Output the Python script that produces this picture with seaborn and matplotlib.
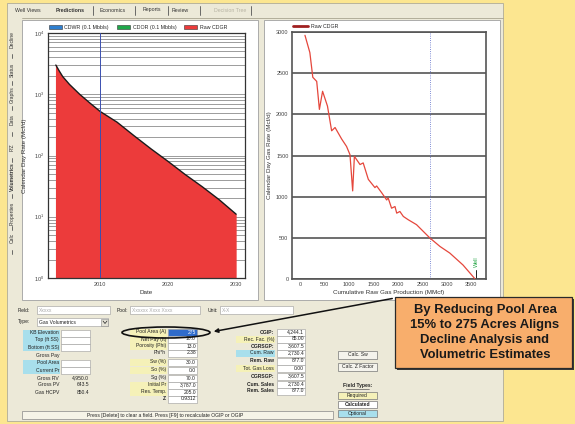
import numpy as np
import pandas as pd
import matplotlib
matplotlib.use("Agg")
import matplotlib.pyplot as plt
import seaborn as sns
from matplotlib.patches import Rectangle, Ellipse
from matplotlib.ticker import FixedLocator, MultipleLocator, LogLocator, LogFormatterMathtext, NullFormatter

# --- DATA ---
# left chart: forecast decline (calendar day rate, log scale)
years = [2003.5, 2004.0, 2004.5, 2005.5, 2007.0, 2008.5, 2010.0, 2012.5,
         2015.0, 2017.5, 2020.0, 2022.5, 2025.0, 2027.5, 2030.0]
cdgr = [3000, 2400, 1950, 1450, 1000, 720, 525, 350,
        210, 128, 80, 49, 31, 19, 11]
left_legend = ["CDWR (0.1 Mbbls)", "CDOR (0.1 Mbbls)", "Raw CDGR"]

# right chart: rate vs cumulative production
cum_gas = [100, 200, 260, 340, 395, 460, 560, 645, 715, 850, 950, 1020, 1075,
           1110, 1225, 1290, 1395, 1530, 1565, 1665, 1770, 1800, 1870, 1940,
           1975, 2040, 2110, 2210, 2380, 2650, 2860, 3060, 3330, 3570]
raw_cdgr = [2960, 2750, 2450, 2400, 2060, 2280, 2100, 1800, 1840, 1700, 1610,
            1510, 1070, 1490, 1390, 1410, 1210, 1110, 1130, 1050, 960, 985,
            860, 880, 800, 820, 760, 720, 660, 500, 395, 315, 170, 5]
well_cum = 3600

# tabs
top_tabs = ["Well Views", "Predictions", "Economics", "Reports", "Review", "Decision Tree"]
side_tabs = ["Decline", "Status", "Graphs", "Data", "P/Z", "Volumetrics", "Properties", "Calc"]

# volumetrics form
left_labels = ["KB Elevation", "Top (ft SS)", "Bottom (ft SS)", "Gross Pay", "Pool Area",
               "Current Pr", "Gross RV", "Gross PV", "Gas HCPV"]
left_values = ["", "", "", "", "", "", "4,950.0", "643.5", "850.4"]
mid_labels = ["Pool Area (A)", "Net Pay (ft)", "Porosity (Phi)", "Phi*h", "Sw (%)",
              "So (%)", "Sg (%)", "Initial Pr", "Res. Temp.", "Z"]
mid_values = ["275", "10.0", "13.0", "2.38", "30.0", "0.0", "70.0", "3,787.0", "205.0", "0.9312"]
right_labels = ["OGIP:", "Rec. Fac. (%)", "OGRSGP:", "Cum. Raw", "Rem. Raw",
                "Tot. Gas Loss", "OGRSGP:", "Cum. Sales", "Rem. Sales"]
right_values = ["4,244.1", "85.00", "3,607.5", "2,730.4", "877.0", "0.00", "3,607.5", "2,730.4", "877.0"]

callout = "By Reducing Pool Area\n15% to 275 Acres Aligns\nDecline Analysis and\nVolumetric Estimates"

# --- STYLE ---
sns.set_style("white")
plt.rcParams['font.family'] = ['Liberation Sans', 'DejaVu Sans']
plt.rcParams['mathtext.fontset'] = 'dejavusans'

W, H = 575, 424
YELLOW = '#FCE690'
WIN = '#ECE9D8'
CYAN = '#A8DFEC'
PALE = '#F5F1B8'
RED = '#EC3B3B'

fig = plt.figure(figsize=(W / 100, H / 100), dpi=100)
fig.patch.set_facecolor(YELLOW)

bg = fig.add_axes([0, 0, 1, 1])
bg.set_xlim(0, W)
bg.set_ylim(H, 0)
bg.axis('off')


def px_axes(x0, y0, x1, y1):
    return fig.add_axes([x0 / W, 1 - y1 / H, (x1 - x0) / W, (y1 - y0) / H])


def txt(x, y, s, size=3.6, ha='left', **kw):
    bg.text(x, y, s, fontsize=size, ha=ha, va='center', color=kw.pop('color', '#222'), **kw)


# window + tabs
bg.add_patch(Rectangle((7, 3), 496, 418, fc=WIN, ec='#B0AC98', lw=0.6))
bg.plot([22, 503], [18, 18], color='#A8A490', lw=0.6)
tab_x = [28, 70, 113, 152, 180, 230]
for i, (x, t) in enumerate(zip(tab_x, top_tabs)):
    txt(x, 10, t, size=3.8, ha='center',
        weight='bold' if i == 1 else 'normal',
        color='#B8B4A4' if i == 5 else '#333')
for x in [93, 135, 168, 200, 251]:
    bg.plot([x, x], [6, 15], color='#555', lw=0.6)
side_y = [40, 70, 95, 120, 147, 177, 213, 238]
for y, t in zip(side_y, side_tabs):
    bg.text(12, y, t, fontsize=3.6, rotation=90, ha='center', va='center',
            color='#333', weight='bold' if t == "Volumetrics" else 'normal')
for y in [56, 83, 108, 134, 160, 196, 228, 252]:
    bg.plot([12, 12], [y - 2, y + 2], color='#555', lw=0.6)

# chart panels
bg.add_patch(Rectangle((22, 20), 236, 280, fc='white', ec='#A0A0A0', lw=0.6))
bg.add_patch(Rectangle((264, 20), 236, 280, fc='white', ec='#A0A0A0', lw=0.6))

# --- LEFT CHART ---
ax1 = px_axes(48, 33, 245, 278)
df_left = pd.DataFrame({'Year': years, 'Rate': cdgr})
ax1.fill_between(df_left['Year'], 1, df_left['Rate'], color=RED, lw=0, zorder=2)
sns.lineplot(data=df_left, x='Year', y='Rate', ax=ax1, color='#1a1a1a', lw=1.0, zorder=3)
ax1.plot([years[0], years[0]], [1, cdgr[0]], color=RED, lw=0.8, zorder=2)
ax1.set_yscale('log')
ax1.set_ylim(1, 10000)
ax1.set_xlim(2002.35, 2031.3)
# log gridlines (every minor/major decade step)
grid_vals = [m * 10.0 ** e for e in range(4) for m in range(1, 10)]
ax1.hlines(grid_vals, 2002.35, 2031.3, color='#8C8C8C', lw=0.6, zorder=1)
ax1.axvline(2010, color='#3A4FB0', lw=0.7, zorder=4)
ax1.yaxis.set_major_locator(LogLocator(base=10, numticks=10))
ax1.yaxis.set_major_formatter(LogFormatterMathtext())
ax1.yaxis.set_minor_locator(LogLocator(base=10, subs=np.arange(2, 10), numticks=20))
ax1.yaxis.set_minor_formatter(NullFormatter())
ax1.xaxis.set_major_locator(FixedLocator([2010, 2020, 2030]))
ax1.tick_params(axis='both', which='both', labelsize=4, colors='#444', length=2, width=0.5, pad=1)
ax1.tick_params(axis='y', which='minor', length=1.5)
for s in ax1.spines.values():
    s.set_color('#333')
    s.set_linewidth(0.9)
ax1.set_xlabel('Date', fontsize=4.5, color='#333', labelpad=2)
ax1.set_ylabel('Calendar Day Rate (Mcf/d)', fontsize=4.5, color='#333', labelpad=5)
handles = [Rectangle((0, 0), 1, 1, fc=c, ec='#333', lw=0.4) for c in ['#2E7FD0', '#1FA84A', RED]]
ax1.legend(handles, left_legend, ncol=3, loc='lower left', bbox_to_anchor=(0, 1.01),
           fontsize=3.8, frameon=False, handlelength=2.5, handleheight=0.9,
           columnspacing=1.5, borderaxespad=0, borderpad=0.1, handletextpad=0.5)

# --- RIGHT CHART ---
ax2 = px_axes(292, 32, 486, 279)
df_right = pd.DataFrame({'Cum': cum_gas, 'Rate': raw_cdgr})
sns.lineplot(data=df_right, x='Cum', y='Rate', ax=ax2, color='#E5473C', lw=0.9,
             sort=False, label='Raw CDGR', zorder=3)
ax2.set_xlim(-165, 3800)
ax2.set_ylim(0, 3000)
ax2.yaxis.set_major_locator(MultipleLocator(500))
ax2.yaxis.set_minor_locator(MultipleLocator(100))
ax2.xaxis.set_major_locator(MultipleLocator(500))
ax2.xaxis.set_minor_locator(MultipleLocator(100))
ax2.grid(True, which='major', axis='y', color='#555', lw=1.2, zorder=0)
ax2.axvline(2650, color='#5566C8', lw=0.6, ls=':', zorder=1)
ax2.plot([well_cum, well_cum], [0, 110], color='#222', lw=0.7)
ax2.text(well_cum, 150, 'Well', rotation=90, fontsize=4, color='#2BA84A',
         ha='center', va='bottom')
ax2.tick_params(axis='both', which='both', labelsize=4, colors='#444', width=0.5,
                direction='inout', pad=1)
ax2.tick_params(which='major', length=3)
ax2.tick_params(which='minor', length=2)
for s in ax2.spines.values():
    s.set_color('#555')
    s.set_linewidth(1.2)
ax2.set_xlabel('Cumulative Raw Gas Production (MMcf)', fontsize=4.5, color='#333', labelpad=2)
ax2.set_ylabel('Calendar Day Gas Rate (Mcf/d)', fontsize=4.5, color='#333', labelpad=3)
ax2.legend(loc='lower left', bbox_to_anchor=(0, 1.012), fontsize=3.8, frameon=False,
           handlelength=3, borderaxespad=0, borderpad=0.1, handletextpad=0.5)
leg_line = ax2.get_legend().get_lines()[0]
leg_line.set_color('#A02020')
leg_line.set_linewidth(2)

# --- FORM ---
def field_box(x0, x1, y, fc='white', h=8):
    bg.add_patch(Rectangle((x0, y - h / 2), x1 - x0, h, fc=fc, ec='#9A9A9A', lw=0.4))

txt(30, 310, 'Field:', ha='right')
field_box(37, 110, 310)
txt(39, 310, 'Xxxxx', color='#AAA')
txt(128, 310, 'Pool:', ha='right')
field_box(130, 200, 310)
txt(132, 310, 'Xxxxxx Xxxx Xxxx', color='#AAA')
txt(218, 310, 'Unit:', ha='right')
field_box(220, 293, 310)
txt(222, 310, 'X-X', color='#AAA')
txt(30, 322, 'Type:', ha='right')
field_box(37, 108, 322)
txt(39, 322, 'Gas Volumetrics')
bg.add_patch(Rectangle((101, 318.5), 7, 7, fc='#E4E2D6', ec='#888', lw=0.4))
bg.plot([103, 105, 107], [321, 323.5, 321], color='#222', lw=0.5)

left_rows = [333, 340, 347, 355, 363, 370, 378, 385, 392]
for i, (y, lab, val) in enumerate(zip(left_rows, left_labels, left_values)):
    if i in (0, 1, 2, 4, 5):
        bg.add_patch(Rectangle((23, y - 3.5), 37, 7, fc=CYAN, lw=0))
        field_box(61, 90, y, h=7)
    txt(59, y, lab, ha='right')
    if val:
        txt(89, y, val, ha='right')

mid_rows = [332, 339, 346, 353, 362, 370, 378, 385, 392, 399]
for i, (y, lab, val) in enumerate(zip(mid_rows, mid_labels, mid_values)):
    if i in (0, 1, 2, 4, 5, 7, 8):
        bg.add_patch(Rectangle((130, y - 3.5), 37, 7, fc=PALE, lw=0))
    field_box(168, 197, y, fc='#2F6BCB' if i == 0 else 'white', h=7)
    txt(166, y, lab, ha='right', weight='bold' if i == 9 else 'normal')
    txt(196, y, val, ha='right', color='white' if i == 0 else '#222')

right_rows = [332, 339, 346, 353, 361, 368, 376, 384, 391]
bold_right = (0, 2, 4, 6, 7, 8)
for i, (y, lab, val) in enumerate(zip(right_rows, right_labels, right_values)):
    if i == 3:
        bg.add_patch(Rectangle((236, y - 3.5), 39, 7, fc=CYAN, lw=0))
    if i in (1, 5):
        bg.add_patch(Rectangle((236, y - 3.5), 39, 7, fc=PALE, lw=0))
    field_box(277, 305, y, h=7)
    txt(274, y, lab, ha='right', weight='bold' if i in bold_right else 'normal')
    txt(304, y, val, ha='right')

# buttons and field type key
for y, lab in [(354.5, 'Calc. Sw'), (367, 'Calc. Z Factor')]:
    bg.add_patch(Rectangle((338, y - 4), 39, 8, fc='#F4F3EC', ec='#777', lw=0.5))
    txt(357.5, y, lab, ha='center')
txt(357.5, 386, 'Field Types:', ha='center', weight='bold')
bg.plot([346, 369], [389, 389], color='#333', lw=0.4)
for y, lab, fc in [(395, 'Required', PALE), (404, 'Calculated', 'white'), (413, 'Optional', CYAN)]:
    bg.add_patch(Rectangle((338, y - 3.5), 39, 7, fc=fc, ec='#777', lw=0.5))
    txt(357.5, y, lab, ha='center', weight='bold' if lab == 'Calculated' else 'normal')

# status bar
bg.add_patch(Rectangle((22, 411), 311, 8, fc='#F6F4E8', ec='#888', lw=0.5))
txt(165, 415, 'Press [Delete] to clear a field. Press [F9] to recalculate OGIP or OGIP', ha='center')

# --- CALLOUT ---
bg.add_patch(Ellipse((166, 332.5), 88, 11, fill=False, ec='#111', lw=1.2, zorder=6))
bg.annotate('', xy=(211, 332), xytext=(395, 298),
            arrowprops=dict(arrowstyle='-|>', color='#111', lw=1.1, mutation_scale=6),
            zorder=6)
bg.add_patch(Rectangle((397, 299), 177, 71, fc='#3A3A3A', lw=0, zorder=6))
bg.add_patch(Rectangle((395, 297), 177, 71, fc='#F8AE6C', ec='#2A2A2A', lw=0.9, zorder=7))
bg.text(485, 332.5, callout, fontsize=9.4, weight='bold', ha='center', va='center',
        color='#1A1A1A', linespacing=1.33, zorder=8)

fig.savefig('out.png', dpi=100, facecolor=fig.get_facecolor())
